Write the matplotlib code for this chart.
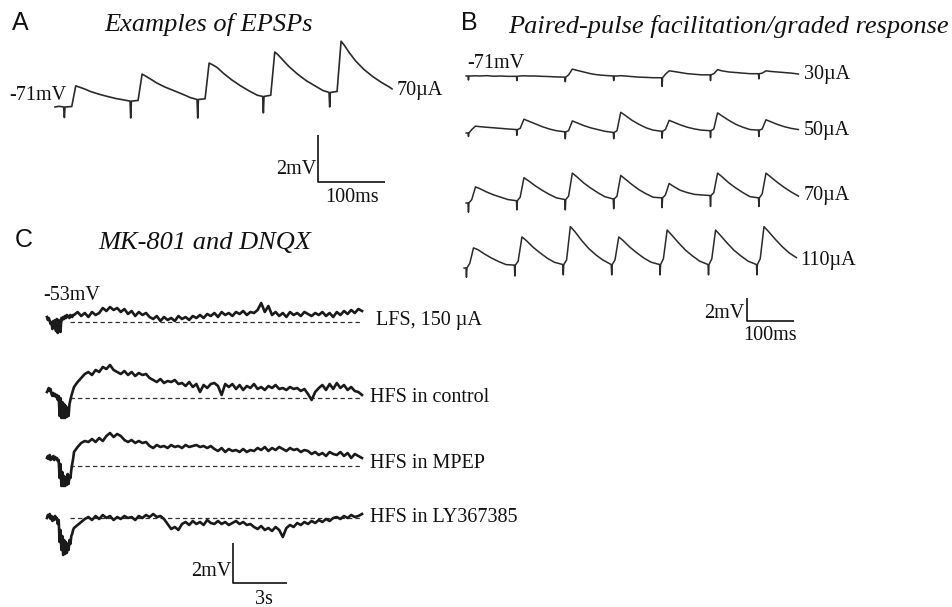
from matplotlib import pyplot as plt
import numpy as np

plt.rcParams['font.family'] = ['Liberation Serif', 'DejaVu Serif']

W, H = 953, 607

# ---- panel A: 70 uA train, ms / mV relative to -71 mV
a_stims = [13, 112, 212, 310, 409]
a_offs = [0, 1, 2, 12, 18, 23, 30, 40, 52, 65, 78, 90]
a_rows = [
    [0.0, -0.45, 0.0, 0.02, 0.9, 0.85, 0.78, 0.66, 0.55, 0.45, 0.36, 0.3],
    [0.25, -0.47, 0.25, 0.28, 1.4, 1.32, 1.2, 1.02, 0.85, 0.7, 0.55, 0.4],
    [0.32, -0.47, 0.32, 0.35, 1.87, 1.8, 1.68, 1.42, 1.15, 0.9, 0.68, 0.5],
    [0.45, -0.25, 0.45, 0.5, 2.34, 2.22, 2.0, 1.7, 1.4, 1.12, 0.9, 0.7],
    [0.62, 0.0, 0.62, 0.66, 2.8, 2.62, 2.32, 1.95, 1.6, 1.3, 1.05, 0.85],
]
a_lead_t, a_lead_v = [0, 6], [0.0, 0.03]
a_tail_t, a_tail_v = [503], [0.77]

# ---- panel B: 7 pulses, graded intensity
b_stims = [0, 103, 206, 309, 412, 515, 618]
b_offs = [0, 1, 2, 8, 16, 25, 40, 55, 70, 85]
b_names = ['30µA', '50µA', '70µA', '110µA']
b30 = [
    [0.0, -0.35, 0.0, 0.0, 0.02, 0.0, 0.03, -0.02, 0.0, -0.03],
    [-0.03, -0.4, -0.03, 0.0, 0.02, 0.0, 0.0, -0.03, -0.05, -0.08],
    [-0.1, -0.5, -0.1, 0.1, 0.6, 0.5, 0.35, 0.2, 0.1, 0.05],
    [0.0, -0.4, 0.0, 0.0, 0.03, 0.0, -0.05, -0.1, -0.12, -0.15],
    [-0.15, -0.9, -0.15, 0.15, 0.45, 0.4, 0.3, 0.2, 0.15, 0.1],
    [0.1, -0.4, 0.1, 0.2, 0.55, 0.45, 0.35, 0.3, 0.25, 0.2],
    [0.2, -0.25, 0.2, 0.25, 0.45, 0.4, 0.35, 0.3, 0.25, 0.17],
]
b50 = [
    [0.0, -0.3, 0.0, 0.3, 0.6, 0.55, 0.5, 0.45, 0.4, 0.35],
    [0.3, -0.2, 0.3, 0.4, 1.2, 1.05, 0.8, 0.55, 0.35, 0.2],
    [0.1, -0.5, 0.1, 0.2, 1.05, 0.9, 0.65, 0.45, 0.3, 0.15],
    [0.05, -0.5, 0.05, 0.2, 1.8, 1.55, 1.1, 0.75, 0.45, 0.25],
    [0.15, -0.45, 0.15, 0.3, 1.1, 0.95, 0.7, 0.5, 0.35, 0.25],
    [0.2, -0.4, 0.2, 0.35, 1.75, 1.5, 1.1, 0.75, 0.5, 0.3],
    [0.25, -0.3, 0.25, 0.35, 1.15, 1.0, 0.75, 0.55, 0.4, 0.3],
]
b70 = [
    [0.0, -0.8, 0.0, 0.3, 1.4, 1.25, 0.95, 0.7, 0.5, 0.3],
    [0.2, -0.6, 0.2, 0.5, 2.2, 1.95, 1.5, 1.1, 0.75, 0.45],
    [0.3, -0.6, 0.3, 0.6, 2.6, 2.3, 1.75, 1.3, 0.9, 0.55],
    [0.35, -0.5, 0.35, 0.6, 2.4, 2.1, 1.6, 1.15, 0.8, 0.5],
    [0.45, -0.4, 0.45, 0.7, 1.7, 1.45, 1.1, 0.9, 0.75, 0.7],
    [0.65, -0.3, 0.65, 0.9, 2.6, 2.3, 1.75, 1.3, 0.9, 0.55],
    [0.45, -0.3, 0.45, 0.8, 2.6, 2.3, 1.8, 1.35, 0.95, 0.6],
]
b110 = [
    [0.0, -0.8, 0.0, 0.4, 1.75, 1.6, 1.2, 0.85, 0.55, 0.3],
    [0.25, -0.7, 0.25, 0.6, 2.7, 2.4, 1.8, 1.3, 0.85, 0.5],
    [0.3, -0.6, 0.3, 0.7, 3.6, 3.2, 2.4, 1.7, 1.15, 0.7],
    [0.3, -0.6, 0.3, 0.7, 2.7, 2.4, 1.8, 1.3, 0.85, 0.5],
    [0.3, -0.6, 0.3, 0.8, 3.3, 2.9, 2.2, 1.55, 1.05, 0.6],
    [0.3, -0.6, 0.3, 0.8, 3.3, 2.9, 2.2, 1.55, 1.05, 0.6],
    [0.3, -0.6, 0.3, 0.8, 3.6, 3.2, 2.5, 1.85, 1.3, 0.9],
]

# ---- panel C: slow potentials (s / mV relative to -53 mV)
c_names = ['LFS, 150 µA', 'HFS in control', 'HFS in MPEP', 'HFS in LY367385']
# first 1.5 s sampled every 0.05 s, the rest every 0.2 s
lfs_head = [0.25, 0.1, 0.2, 0.05, -0.1, 0.0, -0.35, 0.05, -0.3, 0.1, -0.45, 0.15, -0.55, 0.1, 0.0,
            -0.5, 0.2, 0.1, 0.25, 0.15, 0.3, 0.2, 0.35, 0.25, 0.3, 0.2, 0.35, 0.3, 0.25, 0.35]
lfs_tail = [0.35, 0.5, 0.3, 0.45, 0.25, 0.5, 0.35, 0.45,
            0.7, 0.55, 0.75, 0.6, 0.7, 0.5, 0.65,
            0.4, 0.55, 0.3, 0.5, 0.35, 0.45, 0.25,
            0.15, 0.3, 0.05, 0.25, 0.1, 0.2, 0.05, 0.3, 0.15, 0.25, 0.1, 0.3, 0.2, 0.35, 0.2,
            0.4, 0.3, 0.45, 0.25, 0.5, 0.35, 0.45, 0.3, 0.5, 0.4, 0.55, 0.35, 0.5, 0.45,
            0.6, 0.95, 0.5, 0.8,
            0.35, 0.5, 0.3, 0.45, 0.25, 0.5, 0.35, 0.45, 0.3, 0.5, 0.4, 0.3, 0.45, 0.35, 0.5,
            0.3, 0.45, 0.25, 0.5, 0.35, 0.55, 0.4, 0.6, 0.45, 0.65, 0.55]
ctrl_head = [0.3, 0.4, 0.5, 0.35, 0.45, 0.2, 0.1, 0.25, 0.1, 0.2, 0.05, 0.15, -0.1, 0.1, -0.9,
             0.0, -1.0, -0.2, -1.0, -0.3, -1.0, -0.4, -0.95, -0.5, -0.9, -0.3, -0.1, 0.1, 0.25, 0.4]
ctrl_tail = [0.55, 0.8, 1.0, 1.2,
             1.3, 1.15, 1.4, 1.3, 1.55, 1.45, 1.65,
             1.4, 1.3, 1.2, 1.35, 1.15, 1.3, 1.1, 1.25, 1.15, 1.2, 1.0,
             0.9, 0.8, 0.95, 0.75, 0.85, 0.8, 0.9, 0.7,
             0.75, 0.6, 0.8, 0.55, 0.7, 0.3, 0.65, 0.5, 0.7,
             0.75, 0.6, 0.15, 0.7,
             0.55, 0.7, 0.45, 0.65, 0.4, 0.6, 0.5, 0.7, 0.45, 0.55, 0.4, 0.6, 0.5, 0.65, 0.45,
             0.5, 0.4, 0.55, 0.45, 0.5, 0.35, 0.45, 0.2, -0.1,
             0.3, 0.5, 0.65, 0.4, 0.7, 0.45, 0.75, 0.5, 0.65, 0.4, 0.55, 0.35, 0.3, 0.15]
mpep_head = [0.4, 0.5, 0.35, 0.55, 0.3, 0.45, 0.35, 0.5, 0.3, 0.45, 0.35, 0.4, 0.25, 0.3, -0.6,
             0.1, -1.0, -0.3, -1.0, -0.5, -1.0, -0.6, -0.95, -0.4, -0.9, -0.5, -0.6, -0.2, 0.1, 0.35]
mpep_tail = [0.7, 0.95, 1.15, 1.25,
             1.2, 1.35, 1.2, 1.4, 1.25,
             1.5, 1.65, 1.45, 1.6, 1.5,
             1.3, 1.2, 1.3, 1.15, 1.25, 1.15, 1.2,
             1.0, 0.9, 1.05, 0.95, 1.0, 0.9, 1.05, 0.95, 1.0, 0.9, 1.05, 0.95, 1.0, 1.05, 0.95, 1.0, 0.9, 1.0,
             0.85, 0.75, 0.9, 0.7, 0.85, 0.75, 0.8, 0.7, 0.85, 0.7, 0.8, 0.75,
             0.9, 0.8, 0.95, 0.75, 0.9, 0.8, 0.95, 0.85, 0.75, 0.9, 0.8, 0.85, 0.7, 0.8, 0.75,
             0.6, 0.7, 0.55, 0.65, 0.5, 0.7, 0.6, 0.55, 0.7, 0.5, 0.65, 0.4, 0.6, 0.5, 0.4]
ly_head = [0.0, 0.15, 0.05, 0.2, -0.05, 0.1, -0.15, 0.05, -0.1, 0.1, -0.05, 0.0, -0.3, -0.1, -1.2,
           -0.6, -1.6, -0.9, -1.85, -1.1, -1.8, -1.2, -1.75, -1.3, -1.6, -1.1, -1.3, -0.9, -0.8, -0.6]
ly_tail = [-0.5, -0.35, -0.2, -0.05,
           0.05, -0.1, 0.1, -0.05, 0.15, 0.0, 0.1, -0.1, 0.05, -0.05, 0.1, 0.0, 0.05, -0.1, 0.1, 0.0,
           0.15, 0.05, 0.2, 0.05, 0.1, -0.05,
           -0.3, -0.55, -0.45, -0.6,
           -0.3, -0.2, -0.35, -0.15, -0.3, -0.2, -0.35, -0.1, -0.25, -0.3, -0.15, -0.3, -0.2, -0.35,
           -0.25, -0.15, -0.3, -0.2, -0.35, -0.3,
           -0.45, -0.55, -0.4, -0.6, -0.5, -0.65, -0.45, -0.6, -0.95, -0.5, -0.35, -0.45,
           -0.25, -0.35, -0.2, -0.3, -0.15, -0.25, -0.1, -0.2, -0.05, -0.15, 0.0,
           0.05, -0.05, 0.1, 0.0, 0.15, 0.05, 0.1, 0.2]


fig = plt.figure(figsize=(W / 100, H / 100), dpi=100)


def make_axes(x0, y0, sx, sy):
    # full-figure axes whose data origin sits at pixel (x0, y0), sx/sy px per unit
    ax = fig.add_axes([0, 0, 1, 1])
    ax.set_xlim(-x0 / sx, (W - x0) / sx)
    ax.set_ylim(-(H - y0) / sy, y0 / sy)
    ax.axis('off')
    ax.patch.set_alpha(0)
    return ax


def txt(x, y, s, size=14.5, ha='left', **kw):
    fig.text(x / W, 1 - y / H, s, fontsize=size, ha=ha, va='center', color='#111111', **kw)


def build(stims, offs, rows):
    t, v = [], []
    for s, row in zip(stims, rows):
        t += [s + o for o in offs]
        v += row
    return t, v


def scalebar(x0, y0, sx, sy, dx, dy):
    ax = make_axes(x0, y0, sx, sy)
    ax.plot([0, 0, dx], [dy, 0, 0], color='#111111', lw=1.2, solid_capstyle='butt')


# panel A
axA = make_axes(55, 107, 0.67, 23.5)
t, v = build(a_stims, a_offs, a_rows)
axA.plot(a_lead_t + t + a_tail_t, a_lead_v + v + a_tail_v, color='#2a2a2a', lw=1.2)
scalebar(318, 182, 0.67, 23.5, 100, 2)

# panel B
b_y0 = [76, 133, 203, 268]
b_x0 = [468, 468, 468, 466]
for rows, x0, y0 in zip([b30, b50, b70, b110], b_x0, b_y0):
    ax = make_axes(x0, y0, 0.47, 11.5)
    t, v = build(b_stims, b_offs, rows)
    ax.plot([-4] + t, [0.0] + v, color='#2a2a2a', lw=1.1)
scalebar(747, 321, 0.47, 11.5, 100, 2)

# panel C
c_y0 = [322, 398, 466, 518]
for head, tail, y0 in zip([lfs_head, ctrl_head, mpep_head, ly_head],
                          [lfs_tail, ctrl_tail, mpep_tail, ly_tail], c_y0):
    ax = make_axes(47, y0, 18, 20)
    t = np.concatenate([np.arange(len(head)) * 0.05, 1.5 + np.arange(len(tail)) * 0.2])
    ax.hlines(0, 1.3, 17.5, colors='#333333', lw=0.9, linestyles=(0, (3.5, 2.5)))
    ax.plot(t, head + tail, color='#1a1a1a', lw=1.9)
scalebar(233, 583, 18, 20, 3, 2)

# panel letters and titles
for x, y, s in [(20, 23, 'A'), (469, 23, 'B'), (24, 240, 'C')]:
    txt(x, y, s, size=18, ha='center', family=['Liberation Sans', 'DejaVu Sans'])
txt(209, 25, 'Examples of EPSPs', size=19, ha='center', style='italic')
txt(728, 27, 'Paired-pulse facilitation/graded response', size=19, ha='center', style='italic')
txt(205, 243, 'MK-801 and DNQX', size=19, ha='center', style='italic')

# trace labels
txt(66, 96, '-71mV', ha='right')
txt(397, 90, '70µA')
txt(467, 64, '-71mV')
for y, s in zip([75, 131, 195, 261], b_names):
    txt(804 if s != '110µA' else 800, y, s)
txt(43, 295, '-53mV')
for y, s in zip([321, 397, 464, 518], c_names):
    txt(376 if s.startswith('LFS') else 370, y, s)

# scale bar labels
txt(316, 169, '2mV', ha='right')
txt(352, 198, '100ms', ha='center')
txt(744, 313, '2mV', ha='right')
txt(770, 336, '100ms', ha='center')
txt(231, 572, '2mV', ha='right')
txt(264, 599, '3s', ha='center')

plt.savefig('out.png', dpi=100)
